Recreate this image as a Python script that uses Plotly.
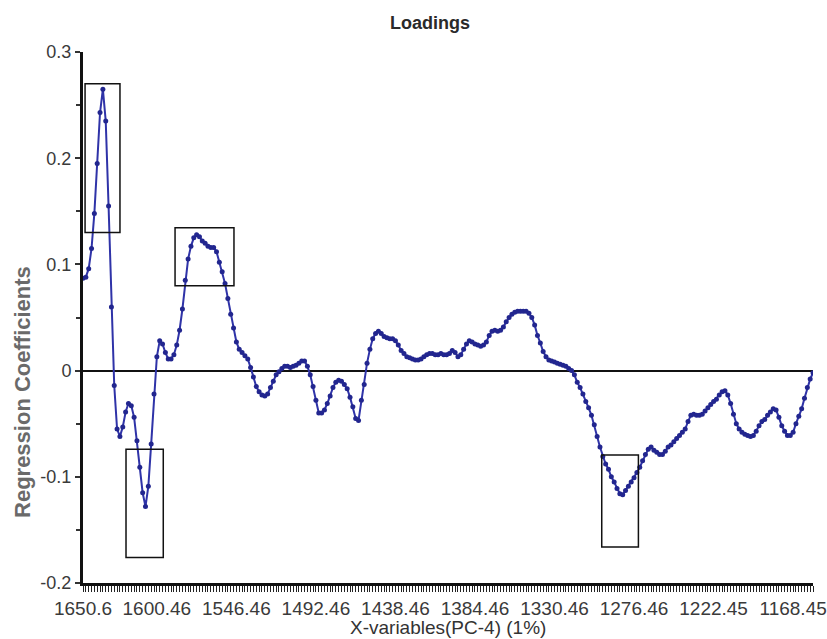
import numpy as np
import plotly.graph_objects as go

# Spectral grid of the X-variables (cm-1), descending
wn_start = 1650.6
wn_step = 1.928571
n_vars = 258
wavenumbers = np.round(wn_start - wn_step * np.arange(n_vars), 2)

# PC-4 regression coefficients, one per X-variable
coefficients = [
    0.087, 0.088, 0.096, 0.115, 0.148, 0.195, 0.243, 0.265, 0.235, 0.155,
    0.060, -0.014, -0.055, -0.062, -0.053, -0.039, -0.031, -0.033, -0.044, -0.066,
    -0.091, -0.115, -0.128, -0.109, -0.069, -0.022, 0.013, 0.028, 0.025, 0.017,
    0.011, 0.011, 0.015, 0.024, 0.038, 0.058, 0.085, 0.105, 0.117, 0.125,
    0.128, 0.126, 0.122, 0.120, 0.117, 0.116, 0.116, 0.112, 0.102, 0.093,
    0.082, 0.068, 0.053, 0.040, 0.027, 0.020, 0.017, 0.014, 0.011, 0.003,
    -0.006, -0.015, -0.020, -0.023, -0.024, -0.022, -0.016, -0.010, -0.004, -0.001,
    0.002, 0.004, 0.004, 0.003, 0.004, 0.005, 0.007, 0.009, 0.009, 0.004,
    -0.004, -0.015, -0.028, -0.040, -0.040, -0.037, -0.031, -0.024, -0.016, -0.011,
    -0.009, -0.010, -0.013, -0.017, -0.025, -0.034, -0.045, -0.047, -0.028, -0.013,
    0.007, 0.020, 0.030, 0.035, 0.037, 0.035, 0.032, 0.031, 0.030, 0.030,
    0.028, 0.024, 0.019, 0.016, 0.013, 0.012, 0.011, 0.010, 0.010, 0.011,
    0.013, 0.015, 0.016, 0.016, 0.015, 0.015, 0.016, 0.015, 0.015, 0.016,
    0.019, 0.017, 0.013, 0.015, 0.020, 0.025, 0.028, 0.027, 0.025, 0.024,
    0.023, 0.024, 0.027, 0.033, 0.037, 0.038, 0.037, 0.038, 0.041, 0.046,
    0.050, 0.053, 0.055, 0.056, 0.056, 0.056, 0.056, 0.054, 0.050, 0.043,
    0.033, 0.026, 0.018, 0.013, 0.010, 0.009, 0.008, 0.007, 0.006, 0.005,
    0.004, 0.002, 0.000, -0.004, -0.011, -0.016, -0.022, -0.029, -0.035, -0.042,
    -0.051, -0.062, -0.072, -0.081, -0.088, -0.093, -0.100, -0.105, -0.111, -0.116,
    -0.117, -0.113, -0.109, -0.105, -0.101, -0.096, -0.091, -0.085, -0.079, -0.074,
    -0.072, -0.075, -0.077, -0.079, -0.079, -0.076, -0.072, -0.070, -0.067, -0.064,
    -0.061, -0.058, -0.055, -0.048, -0.042, -0.041, -0.042, -0.042, -0.041, -0.038,
    -0.035, -0.032, -0.029, -0.027, -0.023, -0.020, -0.019, -0.023, -0.031, -0.041,
    -0.050, -0.055, -0.058, -0.060, -0.061, -0.062, -0.061, -0.057, -0.052, -0.048,
    -0.046, -0.042, -0.039, -0.036, -0.037, -0.044, -0.052, -0.057, -0.061, -0.061,
    -0.058, -0.050, -0.043, -0.036, -0.026, -0.016, -0.008, -0.002,
]

# Axis tick labels
x_tick_labels = ["1650.6", "1600.46", "1546.46", "1492.46", "1438.46",
                 "1384.46", "1330.46", "1276.46", "1222.45", "1168.45"]
y_tick_values = [-0.2, -0.1, 0.0, 0.1, 0.2, 0.3]
y_tick_labels = ["-0.2", "-0.1", "0", "0.1", "0.2", "0.3"]

# Highlighted bands: (wavenumber high, wavenumber low, coef low, coef high)
highlight_regions = [
    (1649.2, 1625.5, 0.130, 0.270),
    (1588.1, 1548.1, 0.080, 0.1346),
    (1621.4, 1596.1, -0.176, -0.074),
    (1298.4, 1273.5, -0.166, -0.0795),
]

FONT = "Liberation Sans, Arial, sans-serif"
LINE_BLUE = "#2f33a8"

fig = go.Figure()
fig.add_trace(go.Scatter(
    x=wavenumbers, y=coefficients, mode="lines+markers",
    line=dict(color=LINE_BLUE, width=2),
    marker=dict(color="#22268f", size=5),
    showlegend=False,
))

for hi, lo, v0, v1 in highlight_regions:
    fig.add_shape(type="rect", xref="x", yref="y", x0=hi, x1=lo, y0=v0, y1=v1,
                  line=dict(color="#111111", width=1.5), fillcolor="rgba(0,0,0,0)")

fig.update_layout(
    width=827, height=639,
    margin=dict(l=83, r=14, t=52, b=56, autoexpand=False),
    paper_bgcolor="white", plot_bgcolor="white",
    font=dict(family=FONT, color="#333333"),
)

fig.update_xaxes(
    range=[wavenumbers[0], wavenumbers[-1]],
    automargin=False,
    tickmode="array",
    tickvals=[float(t) for t in x_tick_labels], ticktext=x_tick_labels,
    tickfont=dict(size=19, color="#3a3a3a"),
    ticks="outside", ticklen=6, tickwidth=1, tickcolor="#222222",
    minor=dict(ticks="outside", ticklen=6, tickwidth=1, tickcolor="#222222",
               tickmode="linear", tick0=wn_start, dtick=wn_step),
    showline=True, linewidth=3, linecolor="#111111",
    showgrid=False, zeroline=False,
)

fig.update_yaxes(
    range=[-0.2, 0.3],
    automargin=False,
    tickmode="array", tickvals=y_tick_values, ticktext=y_tick_labels,
    tickfont=dict(size=18, color="#3a3a3a"),
    ticks="outside", ticklen=5, tickwidth=1.5, tickcolor="#333333",
    minor=dict(ticks="outside", ticklen=4, tickwidth=1.5, tickcolor="#333333",
               dtick=0.05),
    showline=True, linewidth=3, linecolor="#111111",
    showgrid=False,
    zeroline=True, zerolinecolor="#111111", zerolinewidth=1.5,
)

fig.add_annotation(text="<b>Loadings</b>", xref="paper", yref="paper",
                   x=0.4753, y=1.0546, xanchor="center", yanchor="middle",
                   showarrow=False, font=dict(size=18, color="#2a2a2a"))
fig.add_annotation(text="<b>Regression Coefficients</b>", xref="paper", yref="paper",
                   x=-0.0822, y=0.3597, xanchor="center", yanchor="middle",
                   textangle=-90, showarrow=False,
                   font=dict(size=22, color="#6a6a6a"))
fig.add_annotation(text="X-variables(PC-4) (1%)", xref="paper", yref="paper",
                   x=0.5, y=-0.0847, xanchor="center", yanchor="middle",
                   showarrow=False, font=dict(size=19, color="#333333"))

fig.write_html("out.html")
